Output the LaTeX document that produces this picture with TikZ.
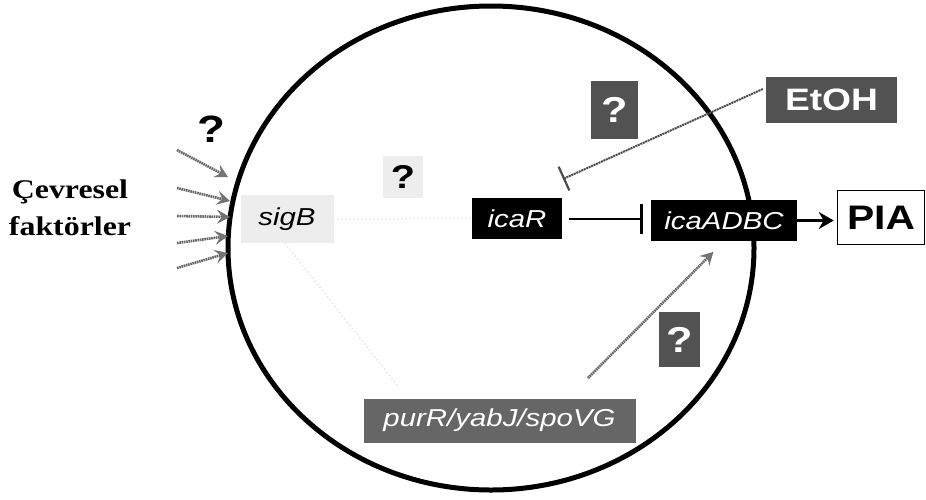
\documentclass[tikz,border=0pt]{standalone}
\usepackage{fontspec}
\setmainfont[FakeStretch=1.18]{Liberation Serif}
\setsansfont[FakeStretch=1.2]{Liberation Sans}
\usetikzlibrary{arrows.meta}

\begin{document}
\begin{tikzpicture}[x=1pt,y=-1pt,
  gene/.style={fill=black,text=white,inner sep=0pt,
    font=\sffamily\itshape\fontsize{24.5}{28}\selectfont},
  qdark/.style={fill=black!68,text=white,inner sep=0pt,
    font=\sffamily\bfseries\fontsize{36}{40}\selectfont},
  qlight/.style={fill=black!7,text=black,inner sep=0pt,
    font=\sffamily\bfseries\fontsize{33}{36}\selectfont},
  signal/.style={draw=black!60,line width=2.6pt,dash pattern=on 1.6pt off 0.7pt,
    -{Stealth[length=13pt,width=14pt,inset=5pt,color=black!55,fill=black!50]}},
  faint/.style={draw=black!13,line width=1.5pt,dash pattern=on 1pt off 3pt},
  block/.style={line width=2pt,-{Bar[width=30pt,line width=2.5pt]}},
]
\useasboundingbox (0,0) rectangle (926,499);
\fill[white] (0,0) rectangle (926,499);

% the cell
\draw[line width=5pt] (491,248) ellipse [x radius=263pt, y radius=242pt];

% outside label
\node[font=\bfseries\fontsize{27}{37}\selectfont, align=center] (env) at (70,208)
  {Çevresel\\faktörler};
\node[font=\sffamily\bfseries\fontsize{38}{40}\selectfont, inner sep=0pt] (q1) at (211,129) {?};

% genes and products
\node[fill=black!7, inner sep=0pt, minimum width=93pt, minimum height=48pt,
  font=\sffamily\itshape\fontsize{24.5}{28}\selectfont] (sigB) at (287,219) {sigB};
\node[qlight, minimum width=40pt, minimum height=42pt] (qc) at (403,177) {?};
\node[gene, minimum width=90pt, minimum height=41pt] (icaR) at (517,218.5) {icaR};
\node[gene, minimum width=146pt, minimum height=41pt] (ica) at (724,220.5) {icaADBC};
\node[draw=black, line width=1.5pt, fill=white, inner sep=0pt, minimum width=87pt,
  minimum height=54pt, font=\sffamily\bfseries\fontsize{34}{36}\selectfont]
  (pia) at (881,217.5) {PIA};
\node[qdark, minimum width=131pt, minimum height=46pt,
  font=\sffamily\bfseries\fontsize{31}{34}\selectfont] (etoh) at (831.5,100) {EtOH};
\node[qdark, minimum width=47pt, minimum height=58pt] (qa) at (614.5,110) {?};
\node[qdark, minimum width=41pt, minimum height=55pt] (qb) at (679.5,339.5) {?};
\node[fill=black!60, text=white, inner sep=0pt, minimum width=272pt, minimum height=44pt,
  font=\sffamily\itshape\fontsize{24.5}{28}\selectfont] (pur) at (499.5,420.5) {purR/yabJ/spoVG};

% environmental signals
\coordinate (s1) at (177,150); \coordinate (e1) at (228,177);
\coordinate (s2) at (177,188); \coordinate (e2) at (230,201);
\coordinate (s3) at (177,216); \coordinate (e3) at (230,217);
\coordinate (s4) at (177,243); \coordinate (e4) at (228,236);
\coordinate (s5) at (177,268); \coordinate (e5) at (228,253);
\foreach \i in {1,...,5} \draw[signal] (s\i) -- (e\i);

% faint regulatory links from sigB
\coordinate (fe) at (397,385);
\draw[faint] (sigB.east) -- (icaR.west);
\draw[faint] ([xshift=-2pt]sigB.south) -- (fe);

% repression and activation
\draw[block, shorten <=7pt, shorten >=8pt] (icaR.east) -- (icaR.east -| ica.west);
\draw[line width=2.4pt, -{Stealth[length=15pt,width=17pt]}, shorten >=3pt]
  (ica.east) -- (ica.east -| pia.west);
\coordinate (etohbar) at (563,179);
\draw[line width=2pt, draw=black!70, dash pattern=on 2pt off 0.7pt,
  -{Bar[width=26pt,line width=2.2pt]}] ([xshift=-3pt,yshift=11pt]etoh.west) -- (etohbar);
\coordinate (pst) at (588,378);
\draw[signal, shorten >=15pt] (pst) -- (ica.south);
\end{tikzpicture}
\end{document}
